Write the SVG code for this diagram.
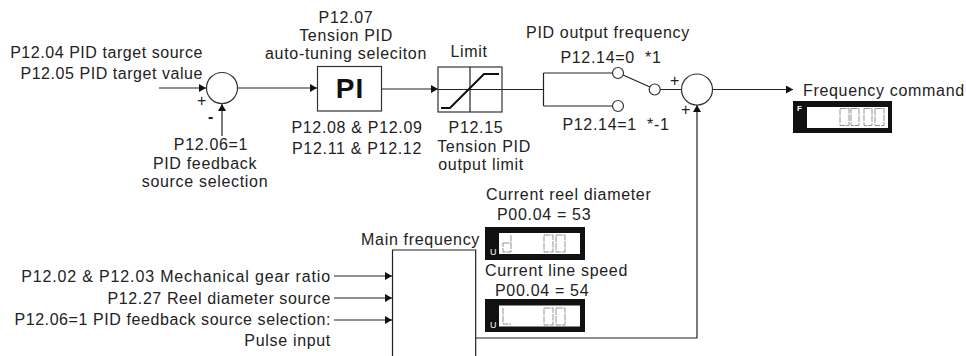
<svg xmlns="http://www.w3.org/2000/svg" width="966" height="356" viewBox="0 0 966 356">
<defs>
<marker id="arr" markerUnits="userSpaceOnUse" markerWidth="9" markerHeight="9" refX="7" refY="4" orient="auto"><path d="M0,0L7,4L0,8z" fill="#111"/></marker>
</defs>
<style>
text{font-family:"Liberation Sans",Arial,sans-serif;font-size:16px;fill:#222;letter-spacing:.68px}
.m{text-anchor:middle}.e{text-anchor:end}
.l{fill:none;stroke:#222;stroke-width:1.2}
.n{fill:#fff;stroke:#333;stroke-width:1.2}
.b{fill:#111}.w{fill:#fff}
.s{fill:none;stroke:#888;stroke-width:.9;stroke-dasharray:6.500 1}
.t{font-size:8px;font-weight:bold;fill:#fff;letter-spacing:0}
.u{font-size:9px;fill:#fff;letter-spacing:0}
</style>
<rect width="966" height="356" fill="#fff"/>
<g id="connectors" class="l">
<path d="M159 88H206" marker-end="url(#arr)"/>
<path d="M222 136V104" marker-end="url(#arr)"/>
<path d="M238 88H317" marker-end="url(#arr)"/>
<path d="M382 89H438" marker-end="url(#arr)"/>
<path d="M502 89.500H543.500M543.500 73V106M543.500 73H612.500M543.500 106H612.500"/>
<path d="M623 75L650 87M660 89.500H681.500"/>
<path d="M712.500 89.500H793" marker-end="url(#arr)"/>
<path d="M334 276H392" marker-end="url(#arr)"/>
<path d="M334 298H392" marker-end="url(#arr)"/>
<path d="M334 320H392" marker-end="url(#arr)"/>
<path d="M476 338H697V105" marker-end="url(#arr)"/>
</g>
<g id="sum1"><circle class="n" cx="222" cy="88" r="15.500"/><text x="202" y="106" class="m">+</text><text x="211" y="122" class="m" style="font-weight:bold">-</text></g>
<g id="labels-left">
<text x="203" y="58" class="e" style="letter-spacing:.55px">P12.04 PID target source</text>
<text x="203" y="79" class="e" style="letter-spacing:.55px">P12.05 PID target value</text>
<text x="211" y="150" class="m">P12.06=1</text>
<text x="205" y="169" class="m">PID feedback</text>
<text x="205" y="187" class="m">source selection</text>
</g>
<g id="pi">
<text x="346" y="23" class="m">P12.07</text>
<text x="346" y="41" class="m">Tension PID</text>
<text x="346" y="59" class="m">auto-tuning seleciton</text>
<rect x="317.500" y="66.500" width="64" height="44.500" class="n"/>
<text x="350" y="98" class="m" style="font-size:28px;font-weight:bold;fill:#111;letter-spacing:1px">PI</text>
<text x="357" y="133" class="m">P12.08 &amp; P12.09</text>
<text x="357" y="154" class="m">P12.11 &amp; P12.12</text>
</g>
<g id="limit">
<text x="469" y="57" class="m">Limit</text>
<rect x="438" y="67" width="64" height="45" class="n"/>
<path class="l" d="M470 67V112M438 89.500H502"/>
<path d="M441 108H450L484 74H499" fill="none" stroke="#111" stroke-width="2"/>
<text x="476" y="133" class="m">P12.15</text>
<text x="484" y="152" class="m">Tension PID</text>
<text x="481" y="170" class="m">output limit</text>
</g>
<g id="switch">
<text x="608" y="38" class="m">PID output frequency</text>
<text x="611" y="63" class="m">P12.14=0 &#160;*1</text>
<text x="616" y="130" class="m">P12.14=1 &#160;*-1</text>
<circle class="n" cx="618" cy="73" r="5.500"/>
<circle class="n" cx="618" cy="106" r="5.500"/>
<circle class="n" cx="654.700" cy="89.500" r="5.500"/>
</g>
<g id="sum2"><circle class="n" cx="697" cy="89.500" r="15.500"/><text x="675" y="86" class="m">+</text><text x="686" y="115" class="m">+</text></g>
<g id="freq-command">
<text x="803" y="96">Frequency command</text>
<rect x="793" y="101" width="99" height="32" class="b"/>
<rect x="807" y="107" width="81" height="21" class="w"/>
<text x="797" y="111" class="t">F</text>
<path class="s" d="M840 108.500h9v17h-9zM851 108.500h8v17h-8zM864 108.500h8v17h-8zM875 108.500h9v17h-9z"/>
</g>
<g id="reel">
<text x="486" y="200">Current reel diameter</text>
<text x="497" y="220">P00.04 = 53</text>
<rect x="485" y="227" width="100" height="33" class="b"/>
<rect x="499" y="233" width="81" height="21" class="w"/>
<text x="490" y="255" class="u">U</text>
<path class="s" d="M503 243h8v9h-8zM511 235v8M544 235h9v17h-9zM556 235h9v17h-9z"/>
</g>
<g id="line-speed">
<text x="485" y="276">Current line speed</text>
<text x="495" y="296">P00.04 = 54</text>
<rect x="485" y="299" width="100" height="33" class="b"/>
<rect x="499" y="305.500" width="81" height="21" class="w"/>
<text x="490" y="328" class="u">U</text>
<path class="s" d="M503 308v16h8M544 308h9v17h-9zM556 308h9v17h-9z"/>
</g>
<g id="main">
<text x="480" y="245" class="e">Main frequency</text>
<path class="l" d="M392.500 356V250H475.700V356"/>
</g>
<g id="inputs">
<text x="331" y="282" class="e" style="letter-spacing:.85px">P12.02 &amp; P12.03 Mechanical gear ratio</text>
<text x="331" y="304" class="e" style="letter-spacing:.6px">P12.27 Reel diameter source</text>
<text x="331" y="325" class="e" style="letter-spacing:.58px">P12.06=1 PID feedback source selection:</text>
<text x="331" y="346" class="e">Pulse input</text>
</g>
</svg>
